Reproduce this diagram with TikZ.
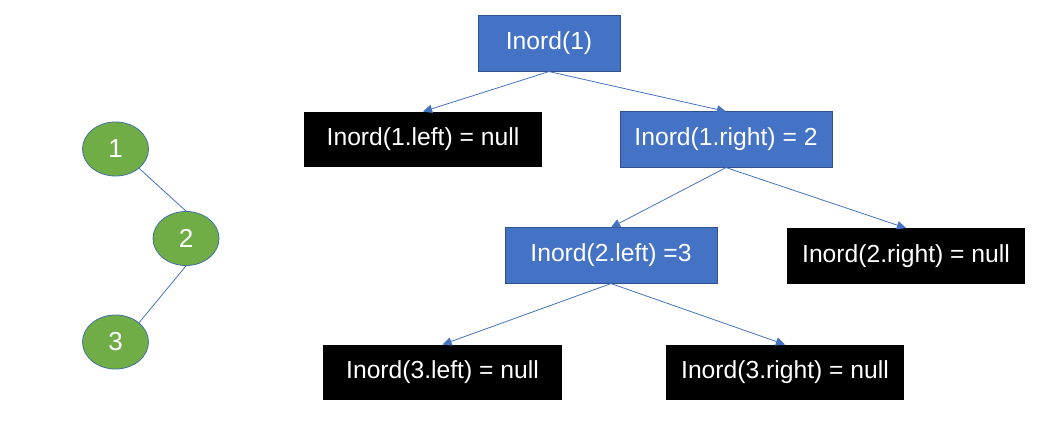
\documentclass[tikz,border=0pt]{standalone}
\usepackage{fontspec}
\setmainfont{Liberation Sans}
\usepackage{xcolor}
\usepackage{tikz}
\usetikzlibrary{arrows.meta,shapes.geometric}
\definecolor{callc}{HTML}{4472C4}
\definecolor{calledge}{HTML}{2F528F}
\definecolor{leafc}{HTML}{70AD47}
\definecolor{leafedge}{HTML}{41719C}
\tikzset{
  ar/.style={-{Triangle[length=2.4mm,width=2.2mm]},line width=0.6pt,callc},
  ln/.style={line width=0.6pt,callc},
  callbox/.style={draw=calledge,line width=0.6pt,fill=callc,text=white,minimum height=41.5pt,inner sep=0pt,font=\fontsize{18.5}{20}\selectfont},
  nullbox/.style={fill=black,text=white,minimum width=179pt,minimum height=41.5pt,inner sep=0pt,font=\fontsize{18.5}{20}\selectfont},
  vert/.style={ellipse,draw=leafedge,line width=0.6pt,fill=leafc,text=white,minimum width=49.5pt,minimum height=40.5pt,inner sep=0pt,font=\fontsize{19.5}{21}\selectfont}
}
\begin{document}
\begin{tikzpicture}[x=0.75pt,y=-0.75pt]
\useasboundingbox (0,0) rectangle (1053,436);
% the small tree
\node[vert] (v1) at (115.5,149) {1};
\node[vert] (v2) at (186,238.5) {2};
\node[vert] (v3) at (115.5,342) {3};
\draw[ln] (v1.south east) -- (v2.north);
\draw[ln] (v2.south) -- (v3.north east);
% the recursive calls
\node[callbox,minimum width=106.5pt] (r) at (549,43.5) {Inord(1)};
\node[nullbox] (l1) at (423,139.5) {Inord(1.left) = null};
\node[callbox,minimum width=159pt] (r1) at (726,139.5) {Inord(1.right) = 2};
\node[callbox,minimum width=159pt] (l2) at (611,255.5) {Inord(2.left) =3};
\node[nullbox] (r2) at (906,256) {Inord(2.right) = null};
\node[nullbox] (l3) at (442.5,372.5) {Inord(3.left) = null};
\node[nullbox] (r3) at (785,372.5) {Inord(3.right) = null};
\draw[ar] (r.south) -- (l1.north);
\draw[ar] (r.south) -- (r1.north);
\draw[ar] (r1.south) -- (l2.north);
\draw[ar] (r1.south) -- (r2.north);
\draw[ar] (l2.south) -- (l3.north);
\draw[ar] (l2.south) -- (r3.north);
\end{tikzpicture}
\end{document}
